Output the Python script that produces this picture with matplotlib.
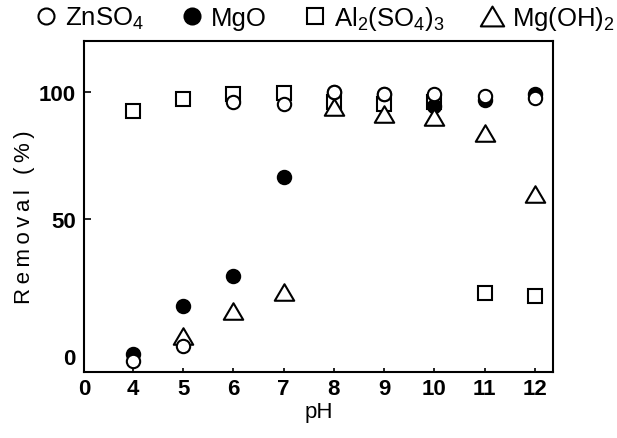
import matplotlib
matplotlib.use('Agg')
import matplotlib.pyplot as plt
from matplotlib.path import Path
from matplotlib.transforms import ScaledTranslation

# ---- data ----
ph = [4, 5, 6, 7, 8, 9, 10, 11, 12]
znso4 = [-5.8, 0.0, 95.8, 95.2, 99.8, 99.1, 99.1, 98.2, 97.4]
mgo = [-3.0, 15.7, 27.5, 66.4, 99.8, 99.1, 94.5, 96.9, 99.1]
al2so43 = [92.5, 97.1, 99.1, 99.4, 96.0, 95.0, 96.0, 20.8, 19.6]
mgoh2_ph = [5, 6, 7, 8, 9, 10, 11, 12]
mgoh2 = [4.2, 14.0, 21.5, 93.9, 91.2, 89.9, 83.8, 59.8]

x_ticks = [4, 5, 6, 7, 8, 9, 10, 11, 12]
x_tick_labels = ['4', '5', '6', '7', '8', '9', '10', '11', '12']
y_ticks = [0, 50, 100]
y_tick_labels = ['0', '50', '100']
labels = ['ZnSO$_\\mathregular{4}$', 'MgO', 'Al$_\\mathregular{2}$(SO$_\\mathregular{4}$)$_\\mathregular{3}$',
          'Mg(OH)$_\\mathregular{2}$']
ylabel_text = 'Removal (%)'
xlabel_text = 'pH'

plt.rcParams['mathtext.fontset'] = 'custom'
plt.rcParams['mathtext.rm'] = 'Liberation Sans'
plt.rcParams['font.family'] = ['Liberation Sans', 'DejaVu Sans']

tick_font = dict(family=['Liberation Sans Narrow', 'Liberation Sans', 'DejaVu Sans'], weight='bold', size=16)

fig = plt.figure(figsize=(6.17, 4.39), dpi=100)
ax = fig.add_axes([84/617, 1-373/439, (553-84)/617, (373-42)/439])

xl = 3.03
ax.set_xlim(xl, 12.36)
ax.set_ylim(-10.1, 119.9)

tri = Path([(-1, -0.85), (1, -0.85), (0, 0.85), (-1, -0.85)],
           [Path.MOVETO, Path.LINETO, Path.LINETO, Path.CLOSEPOLY])

ew = 1.5
h_al, = ax.plot(ph, al2so43, ls='none', marker='s', ms=9.7, mfc='white', mec='black', mew=ew, zorder=3)
h_mg, = ax.plot(ph, mgo, ls='none', marker='o', ms=9.6, mfc='black', mec='black', mew=ew, zorder=4)
h_tr, = ax.plot(mgoh2_ph, mgoh2, ls='none', marker=tri, ms=14, mfc='white', mec='black', mew=ew, zorder=5)
h_zn, = ax.plot(ph, znso4, ls='none', marker='o', ms=9.6, mfc='white', mec='black', mew=ew, zorder=6)

for s in ax.spines.values():
    s.set_linewidth(1.5)

ax.set_xticks([xl] + x_ticks)
ax.set_xticklabels(['0'] + x_tick_labels, **tick_font)
ax.set_yticks(y_ticks)
ax.set_yticklabels(y_tick_labels, **tick_font)
ax.tick_params(axis='x', direction='in', length=3, width=1.2, pad=4)
ax.tick_params(axis='y', direction='in', length=5, width=1.2, pad=6)
ax.tick_params(top=False, right=False)

# "0" label on y sits a bit below its nominal position, with no tick mark
yt0 = ax.yaxis.get_major_ticks()[0]
yt0.tick1line.set_visible(False)
lab = yt0.label1
lab.set_transform(lab.get_transform() + ScaledTranslation(0, -0.10, fig.dpi_scale_trans))
ax.xaxis.get_major_ticks()[0].tick1line.set_visible(False)

# letter-spaced axis labels
spaced = lambda s: '\u2009'.join(s)
ax.set_xlabel(xlabel_text, fontsize=16, labelpad=2)
ax.set_ylabel(spaced(ylabel_text), fontsize=16)
ax.yaxis.set_label_coords(-0.105, 0.47)

fig.legend([h_zn, h_mg, h_al, h_tr], labels, ncol=4, loc='upper center',
           bbox_to_anchor=(0.527, 1.024), frameon=False, fontsize=18.5, markerscale=1.2,
           handlelength=0.8, handletextpad=0.35, columnspacing=1.45, borderaxespad=0.2)

fig.savefig('out.png', dpi=100)
